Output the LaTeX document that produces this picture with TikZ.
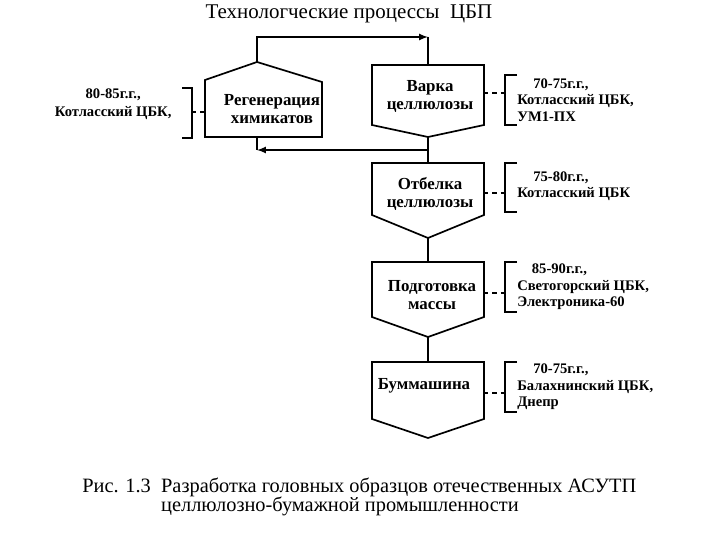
\documentclass[tikz,border=0pt]{standalone}
\usepackage{fontspec}
\setmainfont{Liberation Serif}
\begin{document}
\begin{tikzpicture}[
    box/.style={line width=1.2pt, line join=miter},
    lnk/.style={line width=1.2pt},
    brk/.style={line width=1pt},
    lbl/.style={font=\fontsize{12}{12.5}\selectfont\bfseries, align=center},
    note/.style={font=\fontsize{10.4}{11.8}\selectfont\bfseries, align=left, anchor=west, inner sep=0pt}
  ]
\useasboundingbox (0,0) rectangle (18,13.5);

% title
\node (title) at (8.725,13.15) {\fontsize{14.9}{18}\selectfont Технологческие процессы\ \ ЦБП};

% Регенерация
\draw[box] (5.125,10.075) -- (8.05,10.075) -- (8.05,11.45) -- (6.425,11.95) -- (5.125,11.5) -- cycle;
\coordinate (regenT) at (6.425,11.95);
\coordinate (regenB) at (6.425,10.075);
\node[lbl] (regen) at (6.8,10.78) {Регенерация\\химикатов};

% Варка
\draw[box] (9.3,11.875) -- (12.1,11.875) -- (12.1,10.375) -- (10.7,10.075) -- (9.3,10.375) -- cycle;
\coordinate (varkaT) at (10.7,11.875);
\coordinate (varkaB) at (10.7,10.075);
\node[lbl] (varka) at (10.75,11.09) {Варка\\целлюлозы};

% Отбелка
\draw[box] (9.3,9.425) -- (12.1,9.425) -- (12.1,8.125) -- (10.7,7.55) -- (9.3,8.125) -- cycle;
\coordinate (otbT) at (10.7,9.425);
\coordinate (otbB) at (10.7,7.55);
\node[lbl] (otb) at (10.75,8.65) {Отбелка\\целлюлозы};

% Подготовка
\draw[box] (9.3,6.95) -- (12.1,6.95) -- (12.1,5.575) -- (10.7,5.075) -- (9.3,5.575) -- cycle;
\coordinate (podT) at (10.7,6.95);
\coordinate (podB) at (10.7,5.075);
\node[lbl] (pod) at (10.8,6.125) {Подготовка\\массы};

% Буммашина
\draw[box] (9.3,4.45) -- (12.1,4.45) -- (12.1,3.025) -- (10.7,2.55) -- (9.3,3.025) -- cycle;
\coordinate (bumT) at (10.7,4.45);
\node[lbl] (bum) at (10.6,3.85) {Буммашина};

% links
\coordinate (loopR) at (10.7,12.575);
\draw[lnk, -latex] (regenT) |- (loopR);
\draw[lnk] (loopR) -- (varkaT);
\coordinate (retR) at (10.7,9.75);
\coordinate (retL) at (6.425,9.75);
\draw[lnk] (varkaB) -- (otbT);
\draw[lnk, -latex] (retR) -- (retL);
\draw[lnk] (retL) -- (regenB);
\draw[lnk] (otbB) -- (podT);
\draw[lnk] (podB) -- (bumT);

% left note
\draw[brk] (4.55,11.3) -- (4.8,11.3) -- (4.8,10.05) -- (4.55,10.05);
\coordinate (regenL) at (4.8,10.7);
\draw[brk, dashed] (regenL) -- (5.125,10.7);
\node[font=\fontsize{10.4}{12.6}\selectfont\bfseries, align=center] (regenN) at (2.83,10.9)
{80-85г.г.,\\Котласский ЦБК,};

% right notes
\draw[brk] (12.925,11.625) -- (12.625,11.625) -- (12.625,10.375) -- (12.925,10.375);
\draw[brk, dashed] (12.1,11.175) -- (12.625,11.175);
\node[note] (varkaN) at (12.925,11.0)
{\hspace*{1.1em}70-75г.г.,\\Котласский ЦБК,\\УМ1-ПХ};

\draw[brk] (12.925,9.425) -- (12.625,9.425) -- (12.625,8.2) -- (12.925,8.2);
\draw[brk, dashed] (12.1,8.675) -- (12.625,8.675);
\node[note] (otbN) at (12.925,8.85)
{\hspace*{1.1em}75-80г.г.,\\Котласский ЦБК};

\draw[brk] (12.925,6.95) -- (12.625,6.95) -- (12.625,5.7) -- (12.925,5.7);
\draw[brk, dashed] (12.1,6.175) -- (12.625,6.175);
\node[note] (podN) at (12.925,6.325)
{\hspace*{1em}85-90г.г.,\\Светогорский ЦБК,\\Электроника-60};

\draw[brk] (12.925,4.45) -- (12.625,4.45) -- (12.625,3.2) -- (12.925,3.2);
\draw[brk, dashed] (12.1,3.675) -- (12.625,3.675);
\node[note] (bumN) at (12.925,3.825)
{\hspace*{1.1em}70-75г.г.,\\Балахнинский ЦБК,\\Днепр};

% caption
\node[anchor=west, inner sep=0pt, font=\fontsize{14.5}{15.6}\selectfont] (caption) at (2.05,1.05)
{\begin{tabular}{@{}l@{\ \ }l@{}}
Рис. 1.3 & Разработка головных образцов отечественных АСУТП\\[-2pt]
 & целлюлозно-бумажной промышленности
\end{tabular}};
\end{tikzpicture}
\end{document}
